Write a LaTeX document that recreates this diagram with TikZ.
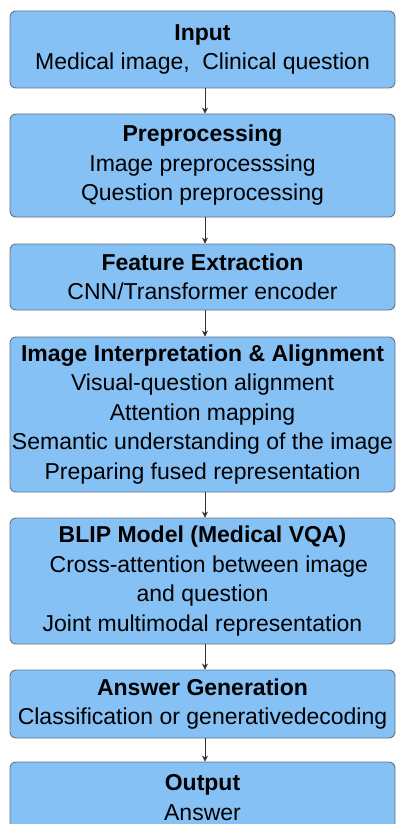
\documentclass[tikz,border=0pt]{standalone}
\usepackage{fontspec}
\setmainfont{Liberation Sans}
\usetikzlibrary{arrows.meta}
\definecolor{boxfill}{RGB}{133,193,245}
\definecolor{boxline}{RGB}{100,115,130}
\definecolor{arrowc}{RGB}{50,50,50}
\begin{document}
\begin{tikzpicture}[x=1pt,y=-1pt,
  stage/.style={draw=boxline, fill=boxfill, line width=0.9pt, rounded corners=6pt,
    minimum width=385pt, align=center, inner sep=0pt,
    font=\fontsize{23}{29.5}\selectfont},
  flow/.style={draw=arrowc, line width=0.7pt, -{Stealth[length=6pt,width=6pt]}}]
\useasboundingbox (0,0) rectangle (396,824);
\begin{scope}
\clip (0,0) rectangle (396,824);
\node[stage, minimum height=77pt] (n1) at (202.5,49.5)
  {\textbf{Input}\\Medical image,\hspace{0.55em}Clinical question};
\node[stage, minimum height=103pt] (n2) at (202.5,165.5)
  {\textbf{Preprocessing}\\Image preprocesssing\\Question preprocessing};
\node[stage, minimum height=66pt] (n3) at (202.5,277)
  {\textbf{Feature Extraction}\\CNN/Transformer encoder};
\node[stage, minimum height=155pt] (n4) at (202.5,414.5)
  {\textbf{Image Interpretation \& Alignment}\\Visual-question alignment\\Attention mapping\\Semantic understanding of the image\\Preparing fused representation};
\node[stage, minimum height=126pt] (n5) at (202.5,581)
  {\textbf{BLIP Model (Medical VQA)}\\\ \ Cross-attention between image\\and question\\Joint multimodal representation};
\node[stage, minimum height=68pt] (n6) at (202.5,704)
  {\textbf{Answer Generation}\\Classification or generativedecoding};
\node[stage, minimum height=71pt] (n7) at (202.5,797.5)
  {\textbf{Output}\\Answer};
\end{scope}
\foreach \a/\b in {n1/n2,n2/n3,n3/n4,n4/n5,n5/n6,n6/n7}
  \draw[flow] ([xshift=2.5pt]\a.south) -- ([xshift=2.5pt]\b.north);
\end{tikzpicture}
\end{document}
